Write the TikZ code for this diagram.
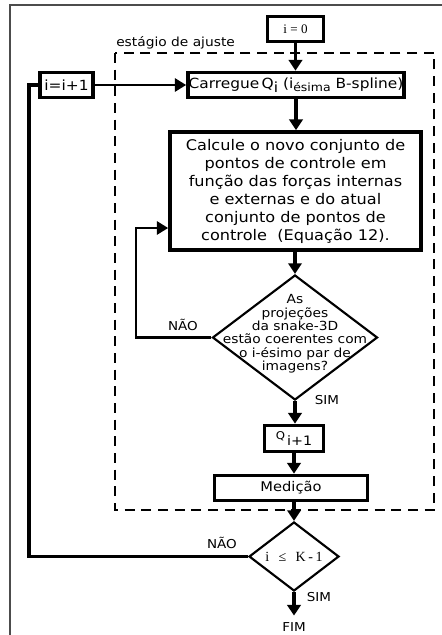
\documentclass[tikz,border=0pt]{standalone}
\usepackage{fontspec}
\usetikzlibrary{shapes.geometric,arrows.meta}
\newfontfamily\flowsans[FakeStretch=1.1]{DejaVu Sans}
\newfontfamily\flowserif{Liberation Serif}

\begin{document}
\begin{tikzpicture}%
        [x=0.75pt, y=-0.75pt,
        box/.style={draw, line width=2.8pt, inner sep=0pt, align=center,
                    font=\flowsans\fontsize{11}{13.5}\selectfont},
        decision/.style={draw, diamond, line width=1.6pt, inner sep=0pt},
        dtext/.style={align=center, inner sep=0pt, font=\flowsans\fontsize{9.4}{10}\selectfont},
        flow/.style={line width=2.5pt, -{Triangle[width=10pt,length=8pt]}},
        thinflow/.style={line width=1.6pt, -{Triangle[width=10pt,length=8.5pt]}},
        loopline/.style={line width=2.3pt},
        answer/.style={inner sep=0pt, font=\flowsans\fontsize{9.2}{11}\selectfont}]
    \useasboundingbox (0,0) rectangle (442,635);
    %%
    %% Outer frame and the fitting stage
    \draw[black!70, line width=1.5pt] (442,5.5) -- (10,5.5) -- (10,635);
    \draw[dashed, dash pattern=on 7.5pt off 5pt, line width=1.1pt] (115,53) rectangle (434,510);
    \node[anchor=west, inner sep=0pt, font=\flowsans\fontsize{9.4}{11}\selectfont] (stage) at (116,43) {estágio de ajuste};
    %%
    %% Boxes
    \node[box, minimum width=42pt, minimum height=18.75pt, font=\flowserif\fontsize{9.8}{11}\selectfont] (start) at (295.5,29) {i = 0};
    \node[box, minimum width=39.75pt, minimum height=18.75pt, font=\flowsans\fontsize{10.5}{12}\selectfont] (incr) at (66.5,85) {i=i+1};
    \node[box, minimum width=162pt, minimum height=18.75pt, font=\flowsans\fontsize{10.5}{12}\selectfont] (load) at (296,85)
        {Carregue\,Q\raisebox{-3pt}{i} (i\raisebox{-2.5pt}{\fontsize{8.5}{9}\selectfont ésima} B-spline)};
    \node[box, minimum width=188.25pt, minimum height=88.5pt] (calc) at (295.5,191)
        {Calcule o novo conjunto de\\
         pontos de controle em\\
         função das forças internas\\
         e externas e do atual\\
         conjunto de pontos de\\
         controle~ (Equação 12).};
    \node[decision, minimum width=123.75pt, minimum height=93.75pt] (test1) at (295,337.5) {};
    \node[dtext] (test1txt) at (295,334)
        {As\\projeções\\da snake-3D\\estão coerentes com\\o i-ésimo par de\\imagens?};
    \node[box, minimum width=44.25pt, minimum height=19.5pt, font=\flowsans\fontsize{9.75}{11}\selectfont] (next) at (294,438.5)
        {\raisebox{5pt}{\fontsize{8}{8}\selectfont Q}\,i+1};
    \node[box, minimum width=114.75pt, minimum height=18.75pt, font=\flowsans\fontsize{10}{12}\selectfont] (meas) at (291,488) {Medição};
    \node[decision, minimum width=67.5pt, minimum height=51.75pt] (test2) at (294,556.5) {};
    \node[inner sep=0pt, font=\flowserif\fontsize{10.5}{12}\selectfont] (test2txt) at (294,556.5)
        {i\hspace{7pt}≤\hspace{7pt}K\hspace{2pt}-\hspace{2pt}1};
    %%
    %% Answers
    \node[answer] (no1) at (183,325) {NÃO};
    \node[answer] (yes1) at (327,400) {SIM};
    \node[answer] (no2) at (222,543) {NÃO};
    \node[answer] (yes2) at (319,597) {SIM};
    \node[answer, inner ysep=5pt] (fim) at (294,627) {FIM};
    %%
    %% Connectors
    \coordinate (inner) at (136,228);
    \coordinate (outer) at (29,85);
    \draw[flow] (start.south) -- (start.south |- load.north);
    \draw[thinflow] (incr) -- (load);
    \draw[flow] (load.south) -- (load.south |- calc.north);
    \draw[flow] (test1.north |- calc.south) -- (test1.north);
    \draw[thinflow] (test1.west) -| (inner) -- (inner -| calc.west);
    \draw[flow] (test1.south) -- (test1.south |- next.north);
    \draw[flow] (next.south) -- (next.south |- meas.north);
    \draw[flow] (test2.north |- meas.south) -- (test2.north);
    \draw[loopline] (test2.west) -| (outer) -- (incr.west);
    \draw[flow] (test2.south) -- (fim.north);
\end{tikzpicture}
\end{document}
